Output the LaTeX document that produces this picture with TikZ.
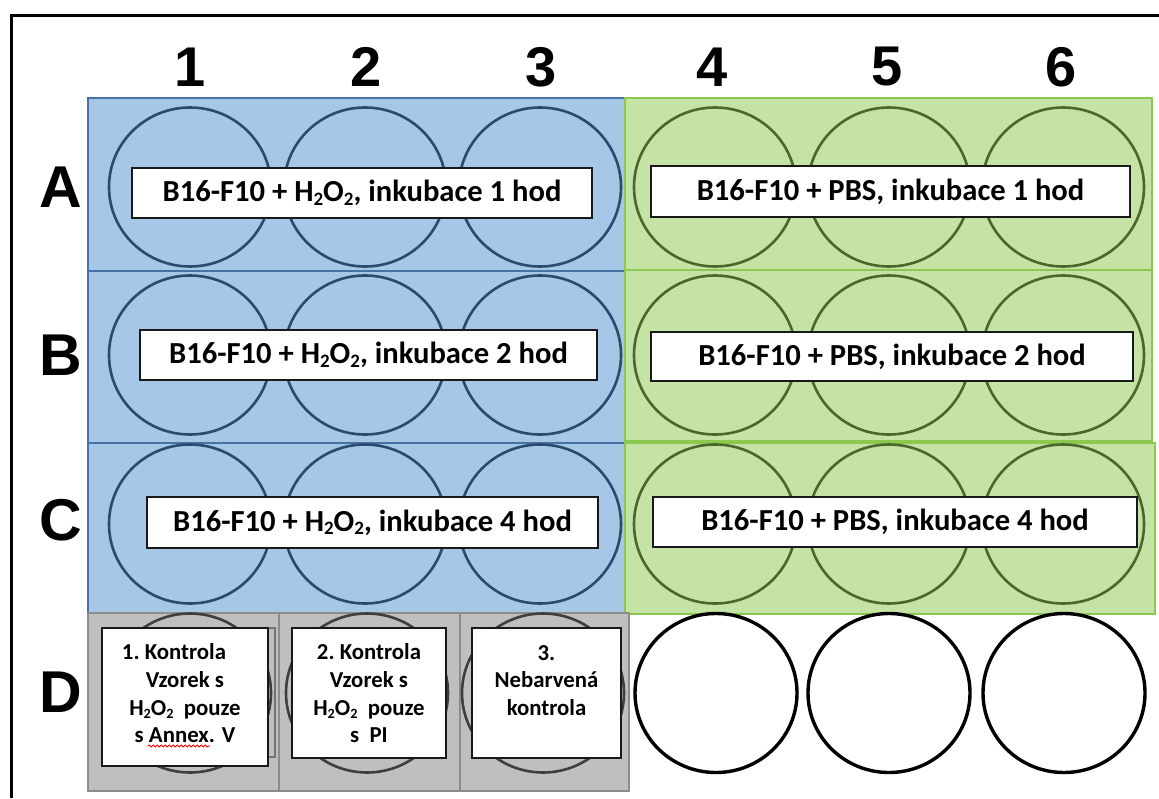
\documentclass[tikz,border=0pt]{standalone}
\usepackage{fontspec}
\setmainfont{Carlito}
\newfontfamily\headfont{Liberation Sans}
\usetikzlibrary{shapes.geometric,decorations.pathmorphing}

\definecolor{blueFill}{RGB}{167,199,231}
\definecolor{blueEdge}{RGB}{70,114,166}
\definecolor{blueWell}{RGB}{44,74,110}
\definecolor{greenFill}{RGB}{197,227,165}
\definecolor{greenEdge}{RGB}{140,200,80}
\definecolor{greenWell}{RGB}{74,104,44}
\definecolor{grayFill}{RGB}{191,191,191}
\definecolor{grayEdge}{RGB}{140,140,140}
\definecolor{grayWell}{RGB}{62,62,62}

% small lowered digit for chemical formulas
\newcommand{\chemsub}[1]{\raisebox{-0.12em}{\scalebox{0.62}{#1}}}

\begin{document}
\begin{tikzpicture}[x=1pt,y=-1pt,
  bluerow/.style={fill=blueFill,draw=blueEdge,line width=1.8pt},
  greenrow/.style={fill=greenFill,draw=greenEdge,line width=1.8pt},
  graycell/.style={fill=grayFill,draw=grayEdge,line width=1.8pt},
  well/.style={ellipse,minimum width=162pt,minimum height=159pt,inner sep=0pt,line width=2.6pt},
  bluewell/.style={well,draw=blueWell},
  greenwell/.style={well,draw=greenWell},
  graywell/.style={well,draw=grayWell},
  openwell/.style={well,draw=black,line width=3.4pt},
  labelbox/.style={rectangle,draw=black!90,line width=1.6pt,fill=white,inner sep=0pt,
    font=\fontsize{30.6}{36}\selectfont\bfseries},
  notebox/.style={rectangle,draw=black!90,line width=1.6pt,fill=white,inner sep=0pt},
  notetext/.style={align=center,inner sep=0pt,font=\fontsize{22.8}{27.7}\selectfont\bfseries},
  colhead/.style={font=\headfont\bfseries\fontsize{56}{60}\selectfont,inner sep=0pt},
  rowhead/.style={font=\headfont\bfseries\fontsize{59}{62}\selectfont,inner sep=0pt},
]
\useasboundingbox (0,0) rectangle (1159,798);
\fill[white] (0,0) rectangle (1159,798);

% plate frame
\draw[line width=3pt] (11,798) -- (11,15) -- (1159,15);

% treatment rows
\draw[bluerow] (88,98) rectangle (625,271);
\draw[bluerow] (88,271) rectangle (625,443);
\draw[bluerow] (88,443) rectangle (625,613);
\draw[greenrow] (625,98) rectangle (1152,270);
\draw[greenrow] (625,270) rectangle (1152,441);
\draw[greenrow] (625,443) rectangle (1155,614);

% control cells
\draw[graycell] (88,613) rectangle (279,791);
\draw[graycell] (279,613) rectangle (460,791);
\draw[graycell] (460,613) rectangle (629,791);

% wells
\foreach \r/\y in {A/187,B/355,C/524}{
  \foreach \c/\x in {1/190,2/365,3/540}
    \node[bluewell] (w\r\c) at (\x,\y) {};
  \foreach \c/\x in {4/715,5/889,6/1063}
    \node[greenwell] (w\r\c) at (\x,\y) {};
}
\foreach \c/\x in {1/190,2/367,3/543}
  \node[graywell] (wD\c) at (\x,693) {};
\foreach \c/\x in {4/716,5/889,6/1064}
  \node[openwell] (wD\c) at (\x,693) {};

% treatment labels
\node[labelbox,minimum width=460pt,minimum height=50pt] (lA1) at (362,193)
  {B16-F10 + H\chemsub{2}O\chemsub{2}, inkubace 1 hod};
\node[labelbox,minimum width=457pt,minimum height=50pt] (lB1) at (368.5,355)
  {B16-F10 + H\chemsub{2}O\chemsub{2}, inkubace 2 hod};
\node[labelbox,minimum width=451pt,minimum height=51pt] (lC1) at (372.5,522.5)
  {B16-F10 + H\chemsub{2}O\chemsub{2}, inkubace 4 hod};
\node[labelbox,minimum width=479pt,minimum height=51pt] (lA4) at (890.5,191.5)
  {B16-F10 + PBS, inkubace 1 hod};
\node[labelbox,minimum width=482pt,minimum height=49pt] (lB4) at (892,356.5)
  {B16-F10 + PBS, inkubace 2 hod};
\node[labelbox,minimum width=484pt,minimum height=50pt] (lC4) at (895,522)
  {B16-F10 + PBS, inkubace 4 hod};

% control notes
\draw[draw=black!55,line width=1.2pt] (110,628) rectangle (275,757);
\node[notebox,minimum width=166pt,minimum height=138pt] (n1) at (185,697) {};
\node[notetext] (t1) at (185,693.5)
  {1.~Kontrola\hspace*{22pt}\mbox{}\\Vzorek s\\H\chemsub{2}O\chemsub{2}\ \ pouze\\s Annex. V};
\draw[red,line width=0.9pt,decorate,decoration={snake,amplitude=1pt,segment length=4pt}]
  (148,746) -- (210,746);
\node[notebox,minimum width=154pt,minimum height=130pt] (n2) at (369,693) {};
\node[notetext] (t2) at (369,693.5)
  {2.~Kontrola\\Vzorek s\\H\chemsub{2}O\chemsub{2}\ \ pouze\\s\ \ PI};
\node[notebox,minimum width=149pt,minimum height=130pt] (n3) at (546.5,693) {};
\node[notetext] (t3) at (546.5,680.5)
  {3.\\Nebarvená\\kontrola};

% column numbers
\foreach \c/\x in {1/190,2/366,3/541,4/712,5/887,6/1061}
  \node[colhead] (col\c) at (\x,67) {\c};
% row letters
\foreach \r/\y in {A/187,B/355,C/520,D/692}
  \node[rowhead] (row\r) at (61,\y) {\r};
\end{tikzpicture}
\end{document}
